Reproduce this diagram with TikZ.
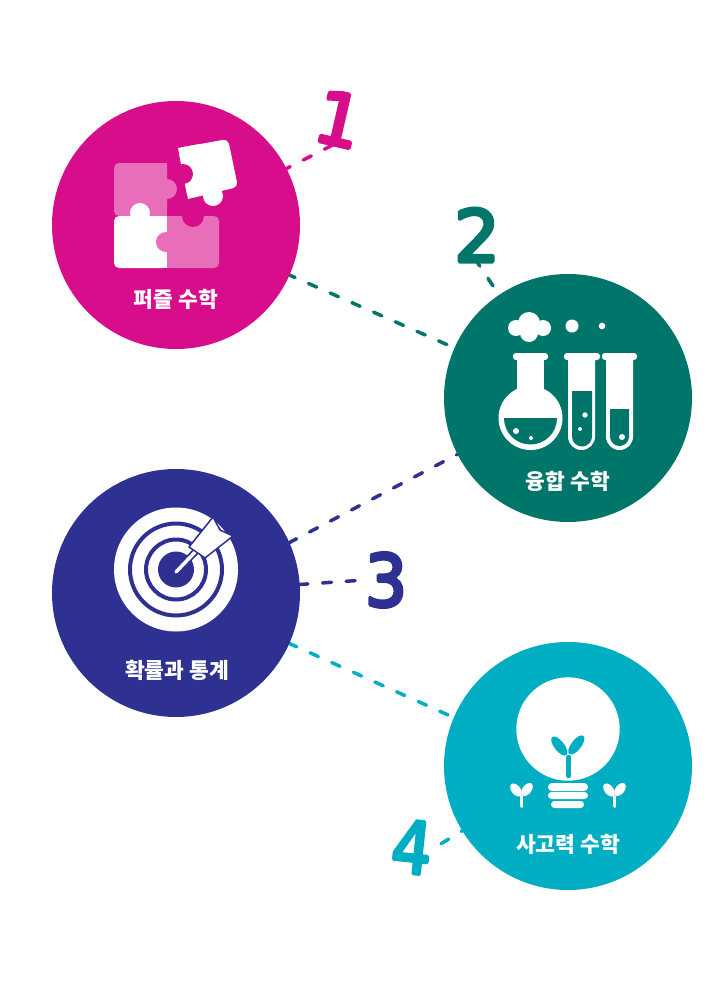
\documentclass[tikz,border=0pt]{standalone}
\usepackage{fontspec}
\usetikzlibrary{backgrounds}
\newfontfamily\krfont{Noto Sans CJK KR}
\newfontfamily\digitfont[FakeBold=5]{DejaVu Sans}
\definecolor{cpink}{HTML}{D80D8B}
\definecolor{cpinklight}{HTML}{E86EB9}
\definecolor{cteal}{HTML}{00766B}
\definecolor{cindigo}{HTML}{2E3192}
\definecolor{ccyan}{HTML}{00AEC3}
\tikzset{
  disc/.style={circle,minimum size=248pt,inner sep=0pt},
  caption/.style={text=white,font=\krfont\bfseries\fontsize{21.5}{24}\selectfont,inner sep=0pt},
  digit/.style={inner sep=0pt,font=\digitfont\fontsize{72}{72}\selectfont\special{pdf:code 1 j}},
  link/.style={line width=3.5pt,line cap=round,dash pattern=on 9pt off 14.7pt},
}
\begin{document}
\begin{tikzpicture}[x=1pt,y=-1pt]
\useasboundingbox (0,0) rectangle (720,991);
% discs
\node[disc,fill=cpink]   (c1) at (176,225) {};
\node[disc,fill=cteal]   (c2) at (568,398) {};
\node[disc,fill=cindigo] (c3) at (176,593) {};
\node[disc,fill=ccyan]   (c4) at (568,766) {};
% numerals
\node[digit,text=cpink,rotate=-13]   (d1) at (339,119) {1};
\node[digit,text=cteal]   (d2) at (477,235) {2};
\node[digit,text=cindigo,xscale=.92] (d3) at (386,580) {3};
\node[digit,text=ccyan,rotate=-6,xscale=.88]  (d4) at (412,847) {4};
% connectors
\begin{pgfonlayer}{background}
\draw[link,cpink,dash phase=5pt] (c1) -- (d1.south);
\draw[link,cteal,dash phase=3pt] (c1) -- (c2);
\draw[link,cteal,dash phase=13pt] (c2) -- (d2.south);
\draw[link,cindigo,dash phase=1pt] (c3.24.5) -- (c2.207.6);
\draw[link,cindigo,dash phase=1pt] (c3) -- (d3.west);
\draw[link,ccyan,dash phase=1pt] (c3.-24.7) -- (c4.157);
\draw[link,ccyan,dash phase=8pt] (c4) -- (d4.east);
\end{pgfonlayer}
% captions
\node[caption] (t1) at (176,299) {퍼즐 수학};
\node[caption] (t2) at (568,481) {융합 수학};
\node[caption] (t3) at (177,670) {확률과 통계};
\node[caption] (t4) at (568,844) {사고력 수학};
% puzzle icon
\fill[cpinklight,rounded corners=5pt] (114,163) rectangle (167,216);
\fill[cpinklight] (140,163) rectangle (167,216);
\fill[cpinklight] (167,189) circle[radius=10pt];
\fill[white,rounded corners=5pt] (114,216) rectangle (167,268);
\fill[white] (140,216) rectangle (167,268);
\fill[white] (140,213) circle[radius=10pt];
\fill[cpinklight,rounded corners=5pt] (167,216) rectangle (219,268);
\fill[cpinklight] (167,216) rectangle (190,268);
\fill[cpinklight] (166,242) circle[radius=10pt];
\fill[cpink] (193,216) circle[radius=11pt];
\fill[white,rounded corners=5pt] (178,148) -- (228,139) -- (238,187) -- (188,199) -- cycle;
\fill[white] (178,148) -- (200,144) -- (210,193) -- (188,199) -- cycle;
\fill[white] (213,196) circle[radius=10pt];
\fill[cpink] (183,174) circle[radius=10pt];
% flask icon
\fill[white] (516,328) circle[radius=8pt] (529,323) circle[radius=11pt] (543,328) circle[radius=8pt] (529,333) circle[radius=9pt];
\fill[white] (572,326) circle[radius=6.5pt] (602,326) circle[radius=3.3pt];
\fill[white,rounded corners=3pt] (513,353) rectangle (548,360);
\fill[white] (517,358) rectangle (544,392);
\fill[white] (530.5,418) circle[radius=32pt];
\fill[cteal] (504,418) arc[start angle=180,end angle=360,radius=26.5pt] -- cycle;
\fill[white] (516,431) circle[radius=3pt] (531,438) circle[radius=2pt];
\fill[white,rounded corners=3pt] (564,353) rectangle (600,360);
\fill[white] (568,358) -- (568,436.5) arc[start angle=180,end angle=360,radius=13.5pt] -- (595,358) -- cycle;
\fill[cteal] (572,391) -- (572,436.5) arc[start angle=180,end angle=360,radius=10pt] -- (592,391) -- cycle;
\fill[white] (585,415) circle[radius=2.7pt] (580,429) circle[radius=2pt];
\fill[white,rounded corners=3pt] (602,353) rectangle (637,360);
\fill[white] (606,358) -- (606,436.5) arc[start angle=180,end angle=360,radius=13.5pt] -- (633,358) -- cycle;
\fill[cteal] (610,409) -- (610,436.5) arc[start angle=180,end angle=360,radius=9.5pt] -- (629,409) -- cycle;
\fill[white] (622,437) circle[radius=3pt];
% target icon
\fill[white] (176,569.5) circle[radius=62pt];
\draw[cindigo,line width=4pt] (176,569.5) circle[radius=46pt];
\draw[cindigo,line width=4pt] (176,569.5) circle[radius=30pt];
\fill[cindigo] (176,569.5) circle[radius=18pt];
\draw[cindigo,line width=7pt,line cap=round] (176,572) -- (196,551);
\draw[white,line width=3.5pt,line cap=round] (176,572) -- (197,550);
\fill[white,draw=cindigo,line width=1.5pt,line join=round] (189,547) -- (213,517) -- (220,530) -- (233,536) -- (205,558) -- cycle;
\draw[cindigo,line width=1pt] (219,527) -- (221,531);
% bulb icon
\fill[white] (568,729) circle[radius=51.7pt];
\fill[ccyan] (559.3,746) ellipse[x radius=11.5pt,y radius=5pt,rotate=-52];
\fill[ccyan] (576.3,745) ellipse[x radius=11.5pt,y radius=5pt,rotate=52];
\draw[ccyan,line width=4.5pt,line cap=round] (568.7,757) -- (568.7,776);
\fill[white,rounded corners=3.9pt] (548,783) rectangle (588,791);
\fill[white,rounded corners=3.6pt] (548,792) rectangle (588,799);
\fill[white,rounded corners=3.4pt] (551,801) rectangle (584,808);
\fill[white] (516,790) ellipse[x radius=7.5pt,y radius=4.5pt,rotate=-52];
\fill[white] (527,789.5) ellipse[x radius=7.5pt,y radius=4.5pt,rotate=52];
\draw[white,line width=3.8pt,line cap=round] (521.5,797) -- (521.5,806);
\fill[white] (609,790) ellipse[x radius=7.5pt,y radius=4.5pt,rotate=-52];
\fill[white] (620,789.5) ellipse[x radius=7.5pt,y radius=4.5pt,rotate=52];
\draw[white,line width=3.8pt,line cap=round] (614.5,797) -- (614.5,806);
\end{tikzpicture}
\end{document}
